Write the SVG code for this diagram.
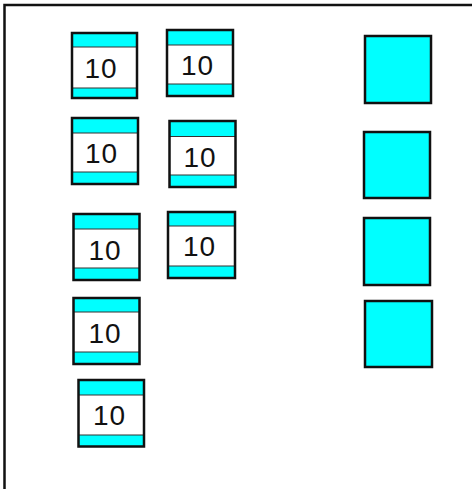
<svg xmlns="http://www.w3.org/2000/svg" width="472" height="489" viewBox="0 0 472 489">
<style>
.frame{fill:none;stroke:#111;stroke-width:2.5}
.box{fill:none;stroke:#111;stroke-width:2.5}
.band{fill:#00ffff;stroke:#333;stroke-width:1}
.sq{fill:#00ffff;stroke:#111;stroke-width:2.5}
.lbl{font-family:"Liberation Sans",Arial,sans-serif;font-size:28px;fill:#111;text-anchor:middle;letter-spacing:1px}
</style>
<rect x="0" y="0" width="472" height="489" fill="#fff"/>
<rect class="frame" x="4.5" y="5" width="490" height="500"/>
<g id="io1"><rect class="band" x="72" y="33" width="65" height="14"/><rect class="band" x="72" y="88" width="65" height="10"/><rect class="box" x="72" y="33" width="65" height="65"/><text class="lbl" x="101" y="78">10</text></g>
<g id="io2"><rect class="band" x="167" y="30" width="66" height="15"/><rect class="band" x="167" y="84" width="66" height="12"/><rect class="box" x="167" y="30" width="66" height="66"/><text class="lbl" x="197.5" y="75">10</text></g>
<g id="io3"><rect class="band" x="72" y="118" width="66" height="15"/><rect class="band" x="72" y="172" width="66" height="12"/><rect class="box" x="72" y="118" width="66" height="66"/><text class="lbl" x="101.5" y="163">10</text></g>
<g id="io4"><rect class="band" x="169.5" y="121" width="66" height="15.5"/><rect class="band" x="169.5" y="175" width="66" height="12"/><rect class="box" x="169.5" y="121" width="66" height="66"/><text class="lbl" x="200" y="166.5">10</text></g>
<g id="io5"><rect class="band" x="73.5" y="214" width="66" height="15"/><rect class="band" x="73.5" y="268" width="66" height="12"/><rect class="box" x="73.5" y="214" width="66" height="66"/><text class="lbl" x="105" y="259.5">10</text></g>
<g id="io6"><rect class="band" x="168" y="212" width="67" height="14"/><rect class="band" x="168" y="266" width="67" height="12"/><rect class="box" x="168" y="212" width="67" height="66"/><text class="lbl" x="199.5" y="256">10</text></g>
<g id="io7"><rect class="band" x="73.5" y="298" width="66" height="14"/><rect class="band" x="73.5" y="352" width="66" height="12"/><rect class="box" x="73.5" y="298" width="66" height="66"/><text class="lbl" x="105" y="342.5">10</text></g>
<g id="io8"><rect class="band" x="78.5" y="380" width="65.5" height="15"/><rect class="band" x="78.5" y="435" width="65.5" height="11.5"/><rect class="box" x="78.5" y="380" width="65.5" height="66.5"/><text class="lbl" x="109.5" y="425">10</text></g>
<g id="sq1"><rect class="sq" x="365" y="36" width="66" height="67"/></g>
<g id="sq2"><rect class="sq" x="364" y="132" width="66" height="66"/></g>
<g id="sq3"><rect class="sq" x="364" y="218" width="66" height="67"/></g>
<g id="sq4"><rect class="sq" x="365" y="301" width="67" height="66"/></g>
<g id="connectors"></g>
</svg>
